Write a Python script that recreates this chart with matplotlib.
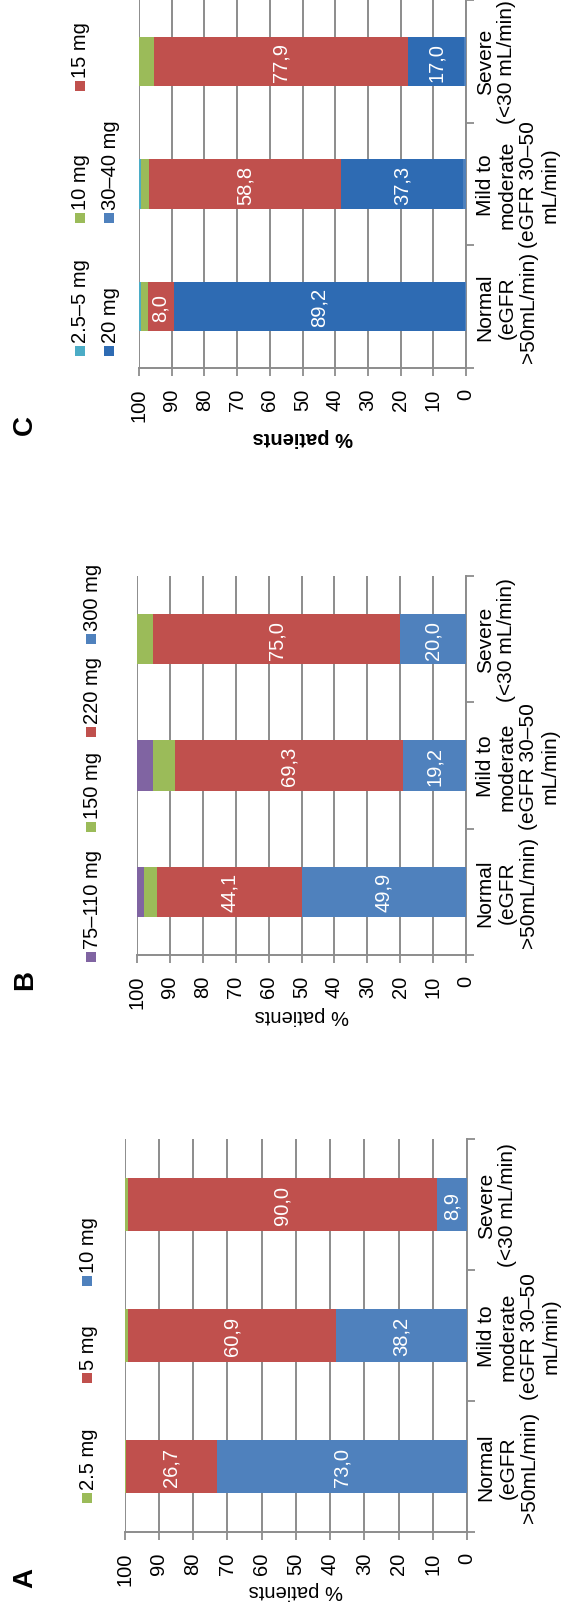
import matplotlib
matplotlib.use("Agg")
import matplotlib.pyplot as plt
from matplotlib.patches import Rectangle

plt.rcParams["font.family"] = ["Liberation Sans", "DejaVu Sans"]
plt.rcParams["font.size"] = 14

# ---- data -------------------------------------------------------------
categories = [
    "Normal\n(eGFR\n>50mL/min)",
    "Mild to\nmoderate\n(eGFR 30\u201350\nmL/min)",
    "Severe\n(<30 mL/min)",
]
value_ticks = [0, 10, 20, 30, 40, 50, 60, 70, 80, 90, 100]

# Panel A (stacked from 0 upwards: 10 mg, 5 mg, 2.5 mg)
a_doses = ["10 mg", "5 mg", "2.5 mg"]
a_10mg = [73.0, 38.2, 8.9]
a_5mg = [26.7, 60.9, 90.0]
a_2_5mg = [0.3, 0.9, 1.1]

# Panel B
b_doses = ["300 mg", "220 mg", "150 mg", "75\u2013110 mg"]
b_300mg = [49.9, 19.2, 20.0]
b_220mg = [44.1, 69.3, 75.0]
b_150mg = [4.0, 6.6, 5.0]
b_75_110mg = [2.0, 4.9, 0.0]

# Panel C
c_doses = ["30\u201340 mg", "20 mg", "15 mg", "10 mg", "2.5\u20135 mg"]
c_30_40mg = [0.2, 0.9, 0.6]
c_20mg = [89.2, 37.3, 17.0]
c_15mg = [8.0, 58.8, 77.9]
c_10mg = [2.1, 2.4, 4.5]
c_2_5_5mg = [0.5, 0.6, 0.0]

# ---- styling ----------------------------------------------------------
W, H = 569, 1606
GRID = "#8C8C8C"
BLUE = "#4F81BD"
DARKBLUE = "#2E6BB3"
RED = "#C0504D"
GREEN = "#9BBB59"
PURPLE = "#8064A2"
CYAN = "#4BACC6"

fig = plt.figure(figsize=(W / 100, H / 100), dpi=100)


def axrect(x0, x1, y0, y1):
    return [x0 / W, 1 - y1 / H, (x1 - x0) / W, (y1 - y0) / H]


def fmt(v):
    return f"{v:.1f}".replace(".", ",")


def draw_panel(rect, names, series, colors, labelled, legend, letter, letter_xy,
               xlabel_off, xlabel_bold):
    x0, x1, y0, y1 = rect
    ax = fig.add_axes(axrect(*rect))
    ypos = list(range(len(categories)))
    base = [0.0] * len(categories)
    for name, vals, col in zip(names, series, colors):
        bars = ax.barh(ypos, vals, height=0.4, left=base, color=col,
                       linewidth=0, zorder=3)
        if name in labelled:
            ax.bar_label(bars, labels=[fmt(v) for v in vals], label_type="center",
                         color="white", rotation=90, fontsize=14.5)
        base = [b + v for b, v in zip(base, vals)]

    ax.set_xlim(100, 0)
    ax.set_ylim(-0.5, len(categories) - 0.5)

    ax.set_xticks(value_ticks)
    ax.set_xticklabels([str(t) for t in value_ticks], rotation=90)
    ax.tick_params(axis="x", direction="out", length=6, width=1.3, color=GRID,
                   pad=8, labelsize=14.5)
    ax.xaxis.grid(True, color=GRID, lw=1.4)
    ax.set_axisbelow(True)

    ax.yaxis.tick_right()
    ax.set_yticks([-0.5, 0.5, 1.5, 2.5])
    ax.set_yticklabels([])
    ax.set_yticks(ypos, minor=True)
    ax.set_yticklabels(categories, minor=True, rotation=90, ha="left",
                       va="center", multialignment="center", fontsize=15,
                       linespacing=1.18)
    ax.tick_params(axis="y", which="major", direction="out", length=6,
                   width=1.3, color=GRID)
    ax.tick_params(axis="y", which="minor", length=0, pad=7)

    for s in ("top", "left"):
        ax.spines[s].set_visible(False)
    for s in ("bottom", "right"):
        ax.spines[s].set_color(GRID)
        ax.spines[s].set_linewidth(1.4)

    ax.set_xlabel("% patients", rotation=180, va="center", fontsize=14.5,
                  fontweight="bold" if xlabel_bold else "normal")
    ax.xaxis.set_label_coords(0.5, -xlabel_off / (y1 - y0))

    for text, col, lx, ly in legend:
        fig.add_artist(Rectangle(((lx - 5) / W, 1 - (ly + 5) / H), 10 / W, 10 / H,
                                 transform=fig.transFigure, color=col, lw=0))
        fig.text((lx + 1) / W, 1 - (ly - 9) / H, text, rotation=90,
                 ha="center", va="bottom", fontsize=14.5)

    fig.text(letter_xy[0] / W, 1 - letter_xy[1] / H, letter, rotation=90,
             ha="center", va="center", fontsize=20, fontweight="bold")
    return ax


# Panel C (top)
draw_panel(
    (139, 466, 1, 369),
    c_doses,
    [c_30_40mg, c_20mg, c_15mg, c_10mg, c_2_5_5mg],
    [BLUE, DARKBLUE, RED, GREEN, CYAN],
    {"15 mg", "20 mg"},
    [("2.5\u20135 mg", CYAN, 80, 352), ("10 mg", GREEN, 80, 219),
     ("15 mg", RED, 80, 87), ("20 mg", DARKBLUE, 109, 352),
     ("30\u201340 mg", BLUE, 109, 219)],
    "C", (25, 425), 68, True,
)

# Panel B (middle)
draw_panel(
    (137, 466, 577, 956),
    b_doses,
    [b_300mg, b_220mg, b_150mg, b_75_110mg],
    [BLUE, RED, GREEN, PURPLE],
    {"300 mg", "220 mg"},
    [("75\u2013110 mg", PURPLE, 91, 958), ("150 mg", GREEN, 91, 828),
     ("220 mg", RED, 91, 733), ("300 mg", BLUE, 91, 640)],
    "B", (25, 980), 60, False,
)

# Panel A (bottom)
draw_panel(
    (124.5, 467, 1140, 1533),
    a_doses,
    [a_10mg, a_5mg, a_2_5mg],
    [BLUE, RED, GREEN],
    {"10 mg", "5 mg"},
    [("2.5 mg", GREEN, 87, 1499), ("5 mg", RED, 87, 1379),
     ("10 mg", BLUE, 87, 1282)],
    "A", (25, 1578), 58, False,
)

fig.savefig("out.png", dpi=100)
